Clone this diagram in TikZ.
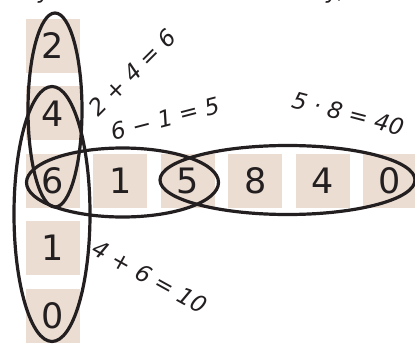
\documentclass[tikz,border=0pt]{standalone}
\usepackage{fontspec}
\setmainfont{DejaVu Sans}
\newfontfamily\slantfont{DejaVu Sans Oblique}
\usepackage{xcolor}
\definecolor{tilebg}{RGB}{235,221,210}
\definecolor{inkdark}{RGB}{35,31,32}
\usetikzlibrary{positioning}

\begin{document}
\begin{tikzpicture}[x=1pt, y=1pt,
          tile/.style={
              fill=tilebg,
              minimum size=54pt,
              inner sep=0pt,
              text=inkdark,
              font=\fontsize{35}{35}\selectfont
            },
          ring/.style={draw=inkdark, line width=3.2pt},
          sumlabel/.style={
              text=inkdark,
              inner sep=0pt,
              font=\fontsize{23}{23}\selectfont\slantfont
            },
          node distance=13pt
        ]
        \clip (0,0) rectangle (415,-345);

        % column
        \node[tile] (c2) at (53,-46) {2};
        \node[tile, below=of c2] (c4) {4};
        \node[tile, below=of c4] (c6) {6};
        \node[tile, below=of c6] (c1) {1};
        \node[tile, below=of c1] (c0) {0};

        % row
        \node[tile, right=of c6] (r1) {1};
        \node[tile, right=of r1] (r5) {5};
        \node[tile, right=of r5] (r8) {8};
        \node[tile, right=of r8] (r4) {4};
        \node[tile, right=of r4] (r0) {0};

        % cut-off text above
        \node[sumlabel, anchor=base] (cutA) at (45,1) {y};
        \node[sumlabel, anchor=base west] (cutB) at (326,1) {y,};

        \draw[ring] (55,-110) ellipse [x radius=27, y radius=97];
        \draw[ring] (52,-214) ellipse [x radius=38, y radius=127.5];
        \draw[ring] (122.5,-182.5) ellipse [x radius=96, y radius=34.5];
        \draw[ring] (287.5,-180) ellipse [x radius=127.5, y radius=34.5];

        \node[sumlabel, rotate=45] (addA) at (132.5,-72.5) {2 + 4 = 6};
        \node[sumlabel, rotate=14.6] (subA) at (165,-118.5) {6 − 1 = 5};
        \node[sumlabel, rotate=-14.7] (mulA) at (348,-113.5) {5 · 8 = 40};
        \node[sumlabel, rotate=-29] (addB) at (150,-277) {4 + 6 = 10};
      \end{tikzpicture}
\end{document}
